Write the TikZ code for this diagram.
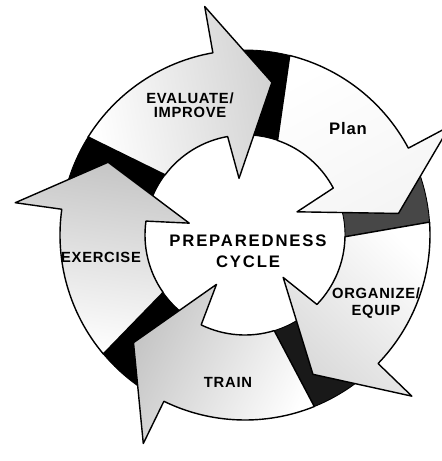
\documentclass[tikz,border=0pt]{standalone}
\usepackage{fontspec}
\newfontfamily\cyclefont[LetterSpace=5]{Liberation Sans}
\newfontfamily\titlefont[LetterSpace=11]{Liberation Sans}

\begin{document}
\begin{tikzpicture}[x=0.02cm, y=0.02cm,
    sideband/.style={draw=black, line width=0.5pt},
    ringarrow/.style={draw=black, line width=0.8pt, line join=round},
    steplabel/.style={font=\cyclefont\bfseries\fontsize{8.4}{8}\selectfont, align=center, inner sep=0pt}]
  \useasboundingbox (-245,-226) rectangle (197,235);
  % dark side faces at the start of each arrow
  \foreach \a/\col in {0/black, -72/black, -144/black!72, -216/black!90, -288/black}
    \filldraw[sideband, fill=\col] (165+\a:185) arc[start angle=165+\a, end angle=148+\a, radius=185]
      -- (143+\a:100) arc[start angle=143+\a, end angle=160+\a, radius=100] -- cycle;
  % the five curved arrows
  \foreach \a/\hc in {0/gray!35, -72/gray!8, -144/gray!30, -216/gray!45, -288/gray!45}
    \path[ringarrow, top color=\hc, middle color=white, bottom color=white, shading angle=-80+\a]
      (148+\a:185) arc[start angle=148+\a, end angle=100+\a, radius=185]
      -- (100+\a:232) -- (80+\a:155) -- (96+\a:57) -- (100+\a:100)
      arc[start angle=100+\a, end angle=143+\a, radius=100] -- cycle;
  % labels
  \node[steplabel] (evaluate) at (-55,130) {EVALUATE/\\IMPROVE};
  \node[steplabel, font=\cyclefont\bfseries\fontsize{9.5}{10}\selectfont] (plan) at (103,106) {Plan};
  \node[steplabel] (organize) at (131,-68) {ORGANIZE/\\[1.5pt]EQUIP};
  \node[steplabel] (train) at (-17,-147) {TRAIN};
  \node[steplabel] (exercise) at (-144,-22) {EXERCISE};
  \node[steplabel, font=\titlefont\bfseries\fontsize{9.5}{12}\selectfont] (cycle) at (3,-16) {PREPAREDNESS\\CYCLE};
\end{tikzpicture}
\end{document}
